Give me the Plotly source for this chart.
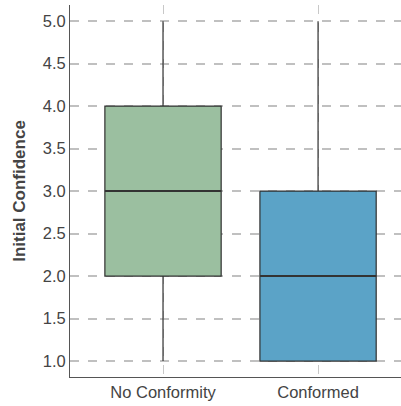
import plotly.graph_objects as go

categories = ["No Conformity", "Conformed"]
q1 = [2.0, 1.0]
medians = [3.0, 2.0]
q3 = [4.0, 3.0]
lower = [1.0, 1.0]
upper = [5.0, 5.0]
colors = ["#9bbfa0", "#5ba3c7"]
tick_vals = [1.0, 1.5, 2.0, 2.5, 3.0, 3.5, 4.0, 4.5, 5.0]

fig = go.Figure()
for i, c in enumerate(categories):
    fig.add_trace(go.Box(
        x=[c], q1=[q1[i]], median=[medians[i]], q3=[q3[i]],
        lowerfence=[lower[i]], upperfence=[upper[i]],
        fillcolor=colors[i], line=dict(color="#303030", width=1.2),
        width=0.75, boxpoints=False, whiskerwidth=0, showlegend=False,
        hoverinfo="skip",
    ))
    # thicker median line
    fig.add_trace(go.Box(
        x=[c], q1=[medians[i]], median=[medians[i]], q3=[medians[i]],
        lowerfence=[medians[i]], upperfence=[medians[i]],
        fillcolor="rgba(0,0,0,0)", line=dict(color="#333333", width=2),
        width=0.75, boxpoints=False, whiskerwidth=0, showlegend=False,
        hoverinfo="skip",
    ))

fig.update_layout(
    width=401, height=406,
    margin=dict(l=70, r=0, t=5, b=29, autoexpand=False),
    plot_bgcolor="white", paper_bgcolor="white",
    font=dict(family="Liberation Sans, Arial, sans-serif", size=16.5, color="#444444"),
    boxmode="overlay",
)
fig.update_xaxes(
    type="category", categoryorder="array", categoryarray=categories,
    range=[-0.6, 1.535], automargin=False,
    showgrid=True, gridcolor="#c8c8c8", griddash="dash", gridwidth=1,
    showline=True, linecolor="#555555", linewidth=1,
    ticks="", tickfont=dict(size=16.5, color="#444444"),
    zeroline=False,
)
fig.update_yaxes(
    range=[0.812, 5.19], tickvals=tick_vals, tickformat=".1f", automargin=False,
    showgrid=True, gridcolor="#c0c0c0", griddash="dash", gridwidth=1.5,
    showline=True, linecolor="#555555", linewidth=1,
    ticks="", ticklen=0, tickfont=dict(size=16.5, color="#444444"),
    title=dict(text="<b>Initial Confidence</b>", font=dict(size=17, color="#444444"), standoff=12),
    zeroline=False,
)
fig.write_html("out.html", config={"displayModeBar": False},
               post_script="document.body.style.margin='0';")
